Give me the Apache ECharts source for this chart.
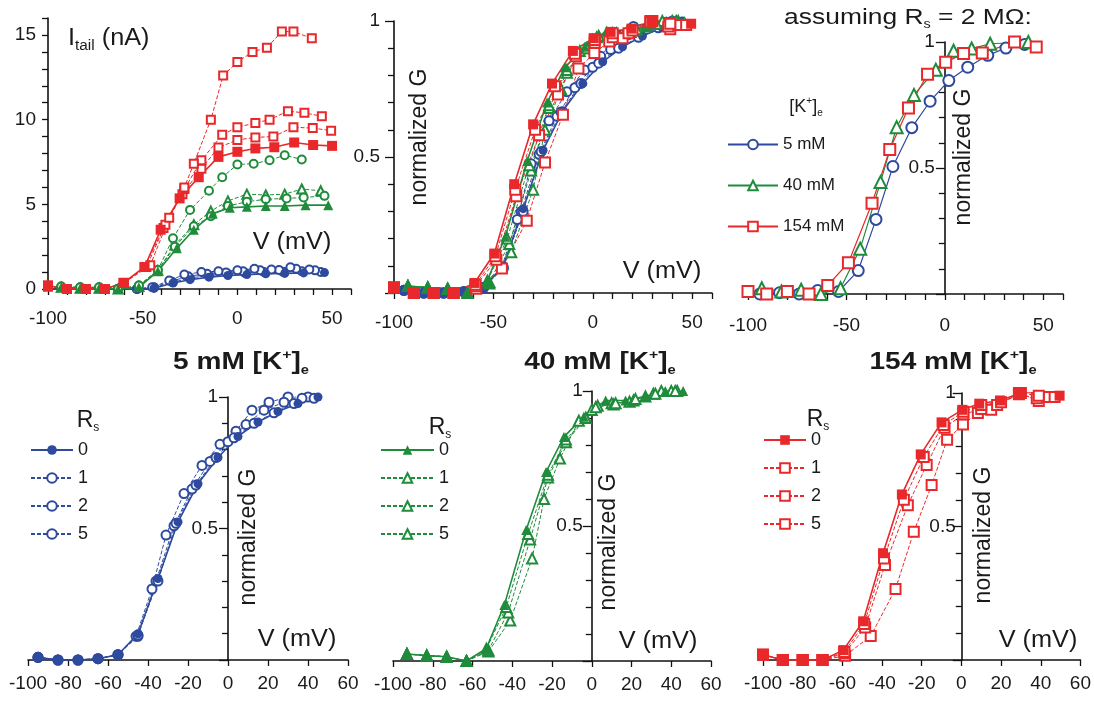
<!DOCTYPE html>
<html><head><meta charset="utf-8">
<script src="https://cdn.jsdelivr.net/npm/echarts@6/dist/echarts.min.js"></script>
<style>html,body{margin:0;padding:0;background:#fff}#c{width:1094px;height:702px}</style>
</head><body><div id="c"></div>
<script>
// ---------- Panel 1: tail current (nA) vs V (mV) ----------
const itBlue0 = [[-63,0],[-53,0],[-44,0.05],[-34,0.35],[-25,0.55],[-15,0.7],[-5,0.8],[5,0.85],[15,0.9],[25,0.92],[35,0.95],[46,0.97]];
const itBlue1 = [[-63,0],[-53,0],[-44,0.08],[-34,0.4],[-25,0.65],[-15,0.8],[-5,0.88],[4,0.95],[14,1.0],[24,1.02],[34,1.05],[44,1.0]];
const itBlue2 = [[-63,0],[-53,0],[-44,0.1],[-35,0.45],[-26,0.75],[-16,0.9],[-6,0.98],[3,1.05],[12,1.1],[22,1.12],[31,1.2],[41,1.1]];
const itBlue5 = [[-63,0],[-53,0],[-45,0.1],[-36,0.5],[-28,0.85],[-19,1.0],[-10,1.05],[0,1.1],[9,1.2],[18,1.15],[28,1.28],[38,1.15]];
const itGreen0 = [[-93,0.1],[-83,0.05],[-73,0.05],[-63,0],[-52,0.1],[-42,1.05],[-32,2.4],[-23,3.5],[-13,4.45],[-4,4.8],[5,4.85],[15,4.9],[25,4.9],[36,4.95],[48,4.95]];
const itGreen1 = [[-93,0.1],[-83,0.05],[-73,0.05],[-63,0],[-52,0.15],[-42,1.1],[-33,2.6],[-23,3.8],[-14,4.6],[-5,5.2],[5,5.6],[15,5.55],[25,5.6],[34,5.9],[44,5.8]];
const itGreen2 = [[-93,0.15],[-83,0.1],[-73,0.1],[-63,0],[-52,0.2],[-42,1.1],[-33,2.5],[-23,3.7],[-14,4.3],[-5,4.9],[5,5.15],[15,5.3],[26,5.35],[35,5.4],[46,5.5]];
const itGreen5 = [[-93,0.15],[-83,0.1],[-73,0.1],[-63,0],[-52,0.2],[-42,1.12],[-34,3.0],[-25,4.67],[-15,5.8],[-8,6.6],[0,7.35],[8.6,7.4],[17,7.6],[25,7.9],[34,7.65]];
const itRed0 = [[-100,0.2],[-90,0],[-80,0],[-70,0],[-60,0.37],[-49,1.3],[-40.5,3.5],[-30.5,5.35],[-20.4,6.6],[-10,7.8],[0,8.1],[9.5,8.3],[19.5,8.37],[30,8.65],[40,8.5],[50,8.45]];
const itRed1 = [[-100,0.15],[-90,0],[-80,0],[-70,0],[-60,0.35],[-49,1.3],[-39,3.6],[-29,5.6],[-19,7.1],[-10,8.35],[0,8.8],[9.5,8.95],[19,9.0],[29.6,9.55],[39.8,9.5],[49.5,9.35]];
const itRed2 = [[-100,0.15],[-90,0],[-80,0],[-70,0],[-60,0.35],[-48,1.3],[-38,3.8],[-28,5.9],[-19,7.6],[-8,9.1],[0,9.55],[9.5,9.8],[17,10.0],[26.7,10.5],[35.4,10.4],[44.6,10.2]];
const itRed5 = [[-100,0.2],[-90,0],[-80,0],[-70,0],[-60,0.35],[-46,1.4],[-36,4.2],[-28,6.0],[-23,7.4],[-14,10.0],[-7.5,12.6],[0,13.4],[8,14.0],[15.6,14.25],[23.5,15.2],[29.6,15.2],[39.3,14.8]];

// ---------- Panels 4-6 (and overlay panel 2): normalized G ----------
const gB0 = [[-95,0.01],[-85,0],[-75,0],[-65,0.005],[-55,0.02],[-45,0.1],[-35,0.31],[-25,0.525],[-15,0.67],[-5,0.77],[5,0.85],[15,0.905],[25,0.945],[35,0.975],[45,1.0]];
const gB1 = [[-95,0.01],[-85,0],[-75,0],[-65,0.005],[-55,0.02],[-45,0.095],[-35,0.3],[-26,0.52],[-16,0.665],[-6,0.77],[3,0.845],[13,0.9],[23,0.94],[33,0.975],[43,0.995]];
const gB2 = [[-95,0.01],[-85,0],[-75,0],[-65,0.005],[-55,0.02],[-45,0.09],[-36,0.3],[-27,0.51],[-18,0.65],[-9,0.755],[0,0.83],[9,0.895],[18,0.95],[28,0.98],[37,0.995]];
const gB5 = [[-95,0.01],[-85,0],[-75,0],[-65,0.005],[-55,0.02],[-46,0.09],[-38,0.27],[-31,0.475],[-22,0.633],[-13,0.74],[-4,0.82],[4,0.87],[12,0.95],[20.5,0.98],[30,1.0],[40,1.0]];
const gG0 = [[-93,0.026],[-83,0.02],[-73,0.016],[-63,0],[-53,0.047],[-44,0.207],[-33,0.485],[-23,0.70],[-14,0.83],[-4,0.905],[7,0.965],[17,0.965],[27,0.98],[37,1.0],[46,1.0]];
const gG1 = [[-93,0.026],[-83,0.02],[-73,0.016],[-63,0],[-53,0.045],[-43,0.2],[-32,0.47],[-22,0.69],[-13,0.82],[-3,0.9],[2,0.94],[12,0.955],[22,0.97],[32,0.99],[42,1.0]];
const gG2 = [[-93,0.026],[-83,0.02],[-73,0.016],[-63,0],[-52,0.04],[-42,0.18],[-31,0.45],[-22,0.68],[-13,0.81],[-3,0.9],[3,0.945],[11,0.95],[21,0.965],[31,0.99],[40,1.0]];
const gG5 = [[-93,0.026],[-83,0.02],[-73,0.016],[-63,0],[-52,0.035],[-41,0.15],[-30,0.38],[-24,0.6],[-16,0.75],[-6.5,0.89],[0,0.93],[10,0.955],[19,0.96],[27,0.98],[35,1.0],[43,1.0]];
const gR0 = [[-100,0.02],[-90,0],[-80,0],[-70,0],[-59.5,0.037],[-49.5,0.145],[-39.5,0.40],[-30,0.62],[-20.5,0.77],[-10,0.89],[0.5,0.937],[9,0.96],[19.5,0.972],[30,1.0],[40,1.005],[49.5,0.99]];
const gR1 = [[-100,0.02],[-90,0],[-80,0],[-70,0],[-59,0.03],[-49,0.135],[-39,0.38],[-29,0.6],[-19,0.76],[-9,0.88],[1,0.93],[10,0.955],[20,0.965],[30,1.0],[39,0.99],[47,0.985]];
const gR2 = [[-100,0.02],[-90,0],[-80,0],[-70,0],[-59,0.025],[-48.5,0.122],[-38.5,0.356],[-27,0.58],[-17.5,0.73],[-8.5,0.87],[1,0.92],[10,0.94],[18,0.955],[29,0.995],[38,0.98],[44,0.985]];
const gR5 = [[-100,0.02],[-90,0],[-80,0],[-70,0],[-58.6,0.016],[-45.7,0.09],[-33.2,0.266],[-24,0.48],[-15,0.655],[-7.2,0.825],[0.8,0.882],[8.3,0.925],[15,0.937],[29,1.0],[39,0.97],[44.7,0.985]];

// ---------- Panel 3: assuming Rs = 2 MOhm ----------
const sB = [[-94,0],[-84,0.005],[-74,0],[-64.6,0.014],[-54,0.01],[-44,0.093],[-35,0.296],[-26.4,0.506],[-16.8,0.66],[-7.5,0.765],[2,0.847],[11.6,0.90],[21.8,0.947],[31,0.976],[40.5,0.99]];
const sG = [[-93,0.023],[-83,0.01],[-73,0.017],[-63,0],[-53,0.023],[-43,0.18],[-32.7,0.444],[-24.5,0.662],[-15.7,0.79],[-4.6,0.89],[4.4,0.965],[13.6,0.974],[23,0.993],[42.4,1.0]];
const sR = [[-100,0.01],[-90.5,0],[-80,0.01],[-69,0],[-59.5,0.034],[-49,0.124],[-37,0.36],[-28,0.573],[-18.5,0.738],[-8.8,0.872],[0.4,0.92],[9.5,0.954],[19,0.956],[35.4,1.0],[46.4,0.98]];

const rsLabels = ['0','1','2','5'];
const kLabels = ['5 mM','40 mM','154 mM'];
const xLabelsTop = [-100,-50,0,50];
const xLabelsBottom = [-100,-80,-60,-40,-20,0,20,40,60];
const yLabelsCurrent = [0,5,10,15];

// ---------- styling ----------
const FONT = '"Liberation Sans", Arial, Helvetica, sans-serif';
const BLUE = '#2d4a9e', GREEN = '#1f8c3b', RED = '#e8282a';
const AX = '#111';
const XMIN = -100, XMAX = 60;

const grids = [
  {left:48, top:18, width:303, height:271},
  {left:394, top:21, width:318, height:272},
  {left:748, top:42, width:315, height:252},
  {left:28, top:397, width:320, height:263},
  {left:393, top:391, width:318, height:270},
  {left:763, top:393, width:318, height:267}
];

function xAx(gi, interval, shown, margin) {
  return {gridIndex:gi, type:'value', min:XMIN, max:XMAX, interval:interval,
    axisLine:{onZero:false, lineStyle:{color:AX, width:1.6}},
    axisTick:{length:6, lineStyle:{color:AX, width:1.3}},
    axisLabel:{margin:margin, fontSize:19, fontFamily:FONT, color:'#1a1a1a',
      formatter:v => shown.indexOf(Math.round(v)) >= 0 ? String(Math.round(v)) : ''},
    splitLine:{show:false}};
}
// y axis placed at V = 0 (atZero) or at the left edge (V = -100)
function yAxNorm(gi, atZero, margin) {
  const off = atZero ? -grids[gi].width * (0 - XMIN) / (XMAX - XMIN) : 0;
  return {gridIndex:gi, type:'value', min:0, max:1, interval:0.5, position:'left', offset:off,
    axisLine:{onZero:false, lineStyle:{color:AX, width:1.6}},
    axisTick:{length:9, lineStyle:{color:AX, width:1.3}},
    minorTick:{show:true, splitNumber:5, length:6, lineStyle:{color:AX, width:1.3}},
    axisLabel:{margin:margin, fontSize:19, fontFamily:FONT, color:'#1a1a1a',
      formatter:v => Math.abs(v-1)<1e-6 ? '1' : (Math.abs(v-0.5)<1e-6 ? '0.5' : '')},
    splitLine:{show:false}, minorSplitLine:{show:false}};
}
const yAxCurrent = {gridIndex:0, type:'value', min:0, max:16, interval:1,
  axisLine:{onZero:false, lineStyle:{color:AX, width:1.6}},
  axisTick:{length:6, lineStyle:{color:AX, width:1.3}},
  axisLabel:{margin:12, fontSize:19, fontFamily:FONT, color:'#1a1a1a',
    formatter:v => yLabelsCurrent.indexOf(Math.round(v)) >= 0 ? String(Math.round(v)) : ''},
  splitLine:{show:false}};

function ser(name, data, gi, color, shape, filled, dashed, size, lw) {
  const sym = filled ? shape : 'empty' + shape.charAt(0).toUpperCase() + shape.slice(1);
  return {name:name, type:'line', xAxisIndex:gi, yAxisIndex:gi, data:data,
    symbol:sym, symbolSize:size, showSymbol:true, animation:false,
    lineStyle:{color:color, width:lw, type: dashed ? [4,2] : 'solid'},
    itemStyle:{color:color, borderColor:color, borderWidth: filled ? 0 : 1.4},
    emphasis:{disabled:true}};
}

const series = [];
// panel 1
series.push(ser('pB1',itBlue1,0,BLUE,'circle',false,true,8,1));
series.push(ser('pB2',itBlue2,0,BLUE,'circle',false,true,8,1));
series.push(ser('pB5',itBlue5,0,BLUE,'circle',false,true,8,1));
series.push(ser('pB0',itBlue0,0,BLUE,'circle',true,false,9,1.6));
series.push(ser('pG1',itGreen1,0,GREEN,'triangle',false,true,9,1));
series.push(ser('pG2',itGreen2,0,GREEN,'circle',false,true,8,1));
series.push(ser('pG5',itGreen5,0,GREEN,'circle',false,true,8,1));
series.push(ser('pG0',itGreen0,0,GREEN,'triangle',true,false,10,1.6));
series.push(ser('pR1',itRed1,0,RED,'rect',false,true,8,1));
series.push(ser('pR2',itRed2,0,RED,'rect',false,true,8,1));
series.push(ser('pR5',itRed5,0,RED,'rect',false,true,8,1));
series.push(ser('pR0',itRed0,0,RED,'rect',true,false,10,1.6));

// panel 2 overlay + panels 4-6
const groups = [
  {key:'B', color:BLUE, shape:'circle', data:[gB0,gB1,gB2,gB5], grid:3, size:9},
  {key:'G', color:GREEN, shape:'triangle', data:[gG0,gG1,gG2,gG5], grid:4, size:10},
  {key:'R', color:RED, shape:'rect', data:[gR0,gR1,gR2,gR5], grid:5, size:10}
];
groups.forEach(g => {
  [3,2,1,0].forEach(k => series.push(ser('a'+g.key+rsLabels[k], g.data[k], 1, g.color, g.shape, k===0, k!==0, g.size, k===0?1.6:1)));
});
groups.forEach(g => {
  [3,2,1,0].forEach(k => series.push(ser(g.key+rsLabels[k], g.data[k], g.grid, g.color, g.shape, k===0, k!==0, g.size, k===0?1.6:1)));
});
// panel 3
series.push(ser(kLabels[0], sB, 2, BLUE, 'circle', false, false, 11, 1.2));
series.push(ser(kLabels[1], sG, 2, GREEN, 'triangle', false, false, 12, 1.2));
series.push(ser(kLabels[2], sR, 2, RED, 'rect', false, false, 11, 1.2));

function leg(names, left, top, iw, gap, fs, fmt) {
  return {data:names, orient:'vertical', left:left, top:top, itemWidth:iw, itemHeight:12,
    itemGap:gap, selectedMode:false, padding:0,
    textStyle:{fontSize:fs, fontFamily:FONT, color:'#1a1a1a'}, formatter:fmt};
}
const legends = [
  leg(kLabels, 727, 136, 50, 24, 17, n=>n),
  leg(rsLabels.map(r=>'B'+r), 30, 441, 42, 10, 18, n=>n.slice(1)),
  leg(rsLabels.map(r=>'G'+r), 380, 441, 53, 10, 18, n=>n.slice(1)),
  leg(rsLabels.map(r=>'R'+r), 763, 431, 42, 10, 18, n=>n.slice(1))
];

function T(x, y, text, font, extra) {
  return Object.assign({type:'text', x:x, y:y, silent:true,
    style:Object.assign({text:text, font:font, fill:'#1a1a1a', align:'center', verticalAlign:'middle',
      textAlign:'center', textVerticalAlign:'middle'}, (extra && extra.style) || {})},
    extra ? {rotation: extra.rotation || 0, scaleX: extra.scaleX || 1} : {});
}
const axFont = '23px ' + FONT;
const richTitle = {
  a:{font:'bold 23px ' + FONT, lineHeight:28, verticalAlign:'middle'},
  p:{font:'bold 13px ' + FONT, lineHeight:14, verticalAlign:'top'},
  s:{font:'bold 12px ' + FONT, lineHeight:12, verticalAlign:'bottom'}
};
function title(x, y, conc) {
  return T(x, y, '{a|' + conc + ' mM [K}{p|+}{a|]}{s|e}', null, {scaleX:1.22, style:{rich:richTitle}});
}
const graphics = [
  {type:'text', x:68, y:39, silent:true, scaleX:1.1, style:{text:'{a|I}{s|tail}{a| (nA)}', align:'left', verticalAlign:'middle', fill:'#1a1a1a',
    rich:{a:{font:'23px '+FONT, lineHeight:28, verticalAlign:'middle'}, s:{font:'14px '+FONT, lineHeight:14, verticalAlign:'bottom'}}}},
  T(292, 243, 'V (mV)', axFont, {scaleX:1.1}),
  T(662, 272, 'V (mV)', axFont, {scaleX:1.1}),
  T(297, 640, 'V (mV)', axFont, {scaleX:1.1}),
  T(658, 642, 'V (mV)', axFont, {scaleX:1.1}),
  T(1038, 641, 'V (mV)', axFont, {scaleX:1.1}),
  T(420, 137, 'normalized G', axFont, {rotation:Math.PI/2}),
  T(964, 157, 'normalized G', axFont, {rotation:Math.PI/2}),
  T(249, 537, 'normalized G', axFont, {rotation:Math.PI/2}),
  T(609, 542, 'normalized G', axFont, {rotation:Math.PI/2}),
  T(984, 535, 'normalized G', axFont, {rotation:Math.PI/2}),
  {type:'text', x:908, y:18, silent:true, scaleX:1.2, style:{text:'{a|assuming R}{s|s}{a| = 2 MΩ:}', align:'center', verticalAlign:'middle', fill:'#1a1a1a',
    rich:{a:{font:'22px '+FONT, lineHeight:26, verticalAlign:'middle'}, s:{font:'12px '+FONT, lineHeight:12, verticalAlign:'bottom'}}}},
  title(241, 363, '5'),
  title(600, 363, '40'),
  title(953, 363, '154'),
  {type:'text', x:806, y:107, silent:true, style:{text:'{a|[K}{p|+}{a|]}{s|e}', align:'center', verticalAlign:'middle', fill:'#1a1a1a',
    rich:{a:{font:'18px '+FONT, lineHeight:22, verticalAlign:'middle'}, p:{font:'10px '+FONT, lineHeight:10, verticalAlign:'top'}, s:{font:'10px '+FONT, lineHeight:10, verticalAlign:'bottom'}}}}
];
function rsHead(x, y) {
  return {type:'text', x:x, y:y, silent:true, style:{text:'{a|R}{s|s}', align:'center', verticalAlign:'middle', fill:'#1a1a1a',
    rich:{a:{font:'23px '+FONT, lineHeight:26, verticalAlign:'middle'}, s:{font:'12px '+FONT, lineHeight:12, verticalAlign:'bottom'}}}};
}
graphics.push(rsHead(88, 421), rsHead(440, 428), rsHead(818, 420));

const option = {
  backgroundColor:'#fff',
  animation:false,
  grid: grids,
  xAxis: [xAx(0,10,xLabelsTop,20), xAx(1,10,xLabelsTop,20), xAx(2,10,xLabelsTop,22),
          xAx(3,20,xLabelsBottom,14), xAx(4,20,xLabelsBottom,14), xAx(5,20,xLabelsBottom,14)],
  yAxis: [yAxCurrent, yAxNorm(1,false,14), yAxNorm(2,true,10), yAxNorm(3,true,10), yAxNorm(4,true,9), yAxNorm(5,true,6)],
  legend: legends,
  series: series,
  graphic: graphics
};
const chart = echarts.init(document.getElementById('c'));
chart.setOption(option);
</script></body></html>
